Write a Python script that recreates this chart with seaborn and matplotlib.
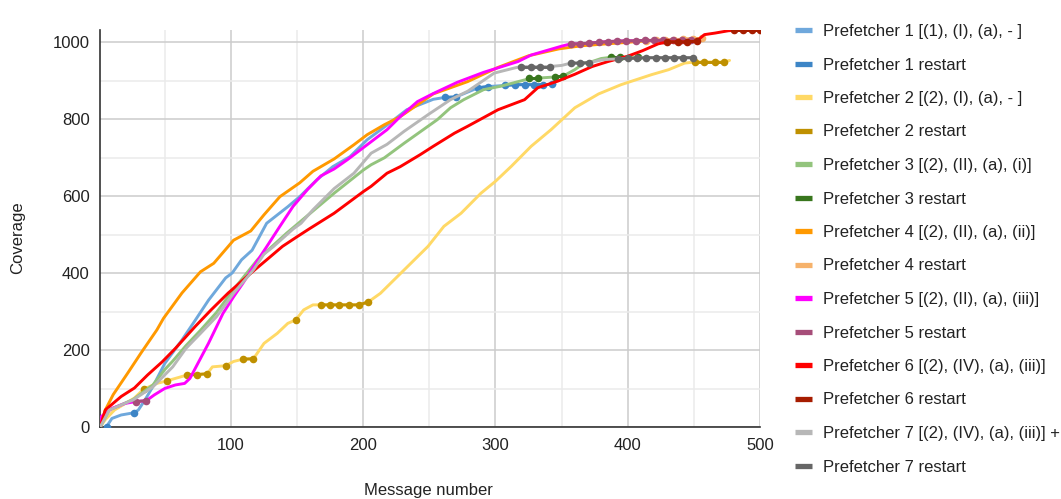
import numpy as np
import pandas as pd
import matplotlib
matplotlib.use("Agg")
import matplotlib.pyplot as plt
from matplotlib.lines import Line2D
from matplotlib.ticker import MultipleLocator
import seaborn as sns

# ---------------- data ----------------
labels = [
    "Prefetcher 1 [(1), (I), (a), - ]", "Prefetcher 1 restart",
    "Prefetcher 2 [(2), (I), (a), - ]", "Prefetcher 2 restart",
    "Prefetcher 3 [(2), (II), (a), (i)]", "Prefetcher 3 restart",
    "Prefetcher 4 [(2), (II), (a), (ii)]", "Prefetcher 4 restart",
    "Prefetcher 5 [(2), (II), (a), (iii)]", "Prefetcher 5 restart",
    "Prefetcher 6 [(2), (IV), (a), (iii)]", "Prefetcher 6 restart",
    "Prefetcher 7 [(2), (IV), (a), (iii)] +", "Prefetcher 7 restart",
]
colors = ["#6fa8dc", "#3d85c6", "#ffd966", "#bf9000", "#93c47d", "#38761d",
          "#ff9900", "#f6b26b", "#ff00ff", "#a64d79", "#ff0000", "#a61c00",
          "#b7b7b7", "#666666"]

p1_x = [1, 4, 6, 10, 17, 27, 30, 35, 41, 50, 63, 73, 83, 96, 101, 108, 116, 127, 143, 152,
        165, 177, 190, 203, 218, 233, 253, 262, 270, 287, 294, 307, 316, 330, 345]
p1_y = [0, 0, 2, 23, 32, 38, 45, 71, 106, 166, 227, 278, 330, 388, 401, 435, 460, 530, 573, 599,
        643, 677, 703, 747, 785, 825, 852, 857, 858, 882, 885, 888, 890, 890, 891]
p1r_x = [6, 27, 262, 270, 287, 294, 307, 315, 322, 329, 336, 343]
p1r_y = [2, 38, 857, 858, 882, 885, 888, 890, 890, 890, 890, 891]

p2_x = [1, 5, 12, 27, 34, 44, 52, 67, 74, 82, 86, 96, 102, 109, 117, 125, 135, 143, 149, 155,
        162, 168, 175, 182, 189, 197, 204, 213, 231, 249, 261, 274, 289, 300, 312, 327, 342,
        360, 378, 395, 418, 431, 443, 451, 458, 466, 473, 477]
p2_y = [0, 20, 45, 76, 99, 114, 121, 136, 137, 139, 157, 160, 171, 177, 178, 218, 244, 270, 279, 305,
        318, 318, 318, 318, 318, 318, 326, 348, 409, 470, 522, 556, 608, 639, 678, 730, 773,
        830, 866, 890, 916, 929, 946, 949, 949, 949, 949, 953]
p2r_x = [34, 52, 67, 74, 82, 96, 109, 117, 149, 168, 175, 182, 189, 197, 204, 451, 458, 466, 473]
p2r_y = [99, 121, 136, 137, 139, 160, 177, 178, 279, 318, 318, 318, 318, 318, 326, 949, 949, 949, 949]

p3_x = [1, 8, 26, 41, 50, 56, 66, 77, 89, 102, 120, 142, 160, 178, 200, 206, 216, 231, 256, 266,
        276, 291, 304, 325, 332, 345, 351, 360, 367, 373, 380, 387, 394, 401, 408]
p3_y = [0, 45, 72, 110, 150, 172, 212, 252, 298, 358, 435, 504, 556, 608, 668, 682, 700, 738, 799, 830,
        851, 877, 886, 905, 907, 910, 912, 929, 946, 950, 958, 961, 961, 961, 962]
p3r_x = [325, 332, 345, 351, 387, 394, 408]
p3r_y = [907, 907, 910, 912, 961, 961, 962]

p4_x = [1, 5, 11, 22, 32, 44, 49, 63, 77, 87, 102, 115, 125, 137, 152, 162, 178, 193, 203, 216,
        228, 253, 279, 302, 325, 348, 365, 380, 400, 414, 421, 428, 435, 442, 449, 456]
p4_y = [0, 45, 85, 141, 193, 253, 283, 349, 404, 426, 486, 510, 552, 599, 635, 665, 697, 734, 760, 786,
        807, 866, 898, 935, 965, 983, 991, 995, 1000, 1004, 1005, 1006, 1007, 1008, 1009, 1010]
p4r_x = [414, 421, 428, 435, 442, 449, 456]
p4r_y = [1004, 1005, 1006, 1007, 1008, 1009, 1010]

p5_x = [1, 2, 10, 20, 28, 36, 42, 50, 58, 65, 69, 75, 83, 94, 102, 109, 117, 127, 137, 147,
        158, 168, 178, 188, 198, 208, 218, 228, 241, 253, 271, 291, 304, 317, 327, 342, 350,
        357, 364, 371, 378, 385, 392, 399, 406, 413, 420, 427, 434, 441, 448]
p5_y = [0, 28, 49, 62, 67, 69, 84, 101, 110, 114, 127, 166, 218, 296, 339, 374, 417, 469, 522, 574,
        618, 653, 671, 695, 721, 747, 773, 807, 846, 867, 896, 922, 936, 950, 967, 982, 990,
        996, 996, 998, 1000, 1002, 1003, 1004, 1004, 1005, 1005, 1005, 1005, 1005, 1005]
p5r_x = [28, 36, 357, 364, 371, 378, 385, 392, 399, 406, 413, 420, 427, 434, 441, 448]
p5r_y = [67, 69, 996, 996, 998, 1000, 1002, 1003, 1004, 1004, 1005, 1005, 1005, 1005, 1005, 1005]

p6_x = [1, 5, 17, 27, 37, 48, 58, 73, 85, 98, 118, 127, 139, 150, 159, 178, 200, 206, 218, 228,
        243, 253, 269, 279, 302, 322, 332, 347, 360, 373, 385, 400, 411, 423, 430, 438, 445, 452,
        458, 466, 476, 480, 487, 494, 500]
p6_y = [0, 45, 80, 102, 136, 170, 205, 262, 305, 349, 409, 435, 470, 495, 515, 556, 612, 626, 660, 677,
        708, 730, 764, 782, 825, 851, 882, 899, 917, 937, 950, 964, 978, 996, 1001, 1001, 1001, 1003,
        1020, 1024, 1030, 1031, 1031, 1031, 1031]
p6r_x = [430, 438, 445, 452, 480, 487, 494, 500]
p6r_y = [1001, 1001, 1001, 1003, 1031, 1031, 1031, 1031]

p7_x = [1, 8, 26, 41, 56, 66, 77, 89, 102, 117, 125, 132, 147, 153, 162, 178, 193, 206, 218, 231,
        249, 266, 279, 299, 314, 319, 327, 334, 341, 350, 357, 364, 371, 380, 386, 393, 400, 407,
        414, 421, 428, 435, 442, 449]
p7_y = [0, 45, 71, 105, 157, 205, 244, 287, 348, 409, 450, 469, 515, 530, 565, 620, 660, 712, 735, 769,
        812, 851, 873, 920, 933, 937, 937, 937, 937, 940, 946, 946, 947, 954, 956, 957, 958, 959,
        960, 960, 960, 960, 960, 960]
p7r_x = [319, 327, 334, 341, 357, 364, 371, 393, 400, 407, 414, 421, 428, 435, 442, 449]
p7r_y = [937, 937, 937, 937, 946, 946, 947, 957, 958, 959, 960, 960, 960, 960, 960, 960]

series = [(p1_x, p1_y), (p1r_x, p1r_y), (p2_x, p2_y), (p2r_x, p2r_y),
          (p3_x, p3_y), (p3r_x, p3r_y), (p4_x, p4_y), (p4r_x, p4r_y),
          (p5_x, p5_y), (p5r_x, p5r_y), (p6_x, p6_y), (p6r_x, p6r_y),
          (p7_x, p7_y), (p7r_x, p7r_y)]

# ---------------- figure ----------------
sns.set_theme(style="white")
plt.rcParams["font.family"] = ["Liberation Sans", "DejaVu Sans"]
FS = 12

W, H = 1061, 499
fig = plt.figure(figsize=(W / 100, H / 100), dpi=100)
ax = fig.add_axes([100 / W, (H - 427.3) / H, 660 / W, (427.3 - 30) / H])

for i, ((xs, ys), lab, col) in enumerate(zip(series, labels, colors)):
    df = pd.DataFrame({"x": xs, "y": ys})
    if i % 2 == 0:
        sns.lineplot(data=df, x="x", y="y", ax=ax, color=col, lw=2.1,
                     estimator=None, sort=False, zorder=2 + i)
    else:
        run = (df["x"].diff().fillna(0) > 10).cumsum()
        df["run"] = run
        for _, g in df.groupby("run"):
            if len(g) > 1:
                sns.lineplot(data=g, x="x", y="y", ax=ax, color=col, lw=2.1,
                             estimator=None, sort=False, zorder=2 + i)
        sns.scatterplot(data=df, x="x", y="y", ax=ax, color=col, s=30,
                        linewidth=0, zorder=2.5 + i)

ax.set_xlim(1, 500)
ax.set_ylim(0, 1032)
ax.xaxis.set_major_locator(MultipleLocator(100))
ax.xaxis.set_minor_locator(MultipleLocator(50))
ax.yaxis.set_major_locator(MultipleLocator(200))
ax.yaxis.set_minor_locator(MultipleLocator(100))
ax.grid(which="major", color="#cccccc", lw=1.1, zorder=0)
ax.grid(which="minor", color="#ebebeb", lw=1.1, zorder=0)
ax.set_axisbelow(True)
ax.tick_params(which="both", length=0)
ax.tick_params(axis="y", pad=7.5, labelsize=FS, labelcolor="#222222")
ax.tick_params(axis="x", pad=8, labelsize=FS, labelcolor="#222222")
ax.set_xticks([100, 200, 300, 400, 500])
ax.set_yticks([0, 200, 400, 600, 800, 1000])
for s in ["top", "right"]:
    ax.spines[s].set_visible(False)
ax.spines["left"].set_color("#333333")
ax.spines["bottom"].set_color("#333333")
ax.spines["left"].set_linewidth(1.2)
ax.spines["bottom"].set_linewidth(1.2)
ax.set_xlabel("")
ax.set_ylabel("")

fig.text(18 / W, 1 - 238 / H, "Coverage", rotation=90, ha="center", va="center",
         fontsize=FS, color="#222222")
fig.text(428 / W, 1 - 491 / H, "Message number", ha="center", va="center",
         fontsize=FS, color="#222222")

handles = [Line2D([0], [0], color=c, lw=3.8, solid_capstyle="butt") for c in colors]
fig.legend(handles, labels, loc="upper left",
           bbox_to_anchor=(795 / W, 1 - 24.0 / H), frameon=False, fontsize=FS,
           handlelength=1.0, handletextpad=0.7, labelspacing=1.11,
           borderpad=0, borderaxespad=0, labelcolor="#222222")

fig.savefig("out.png", dpi=100)
